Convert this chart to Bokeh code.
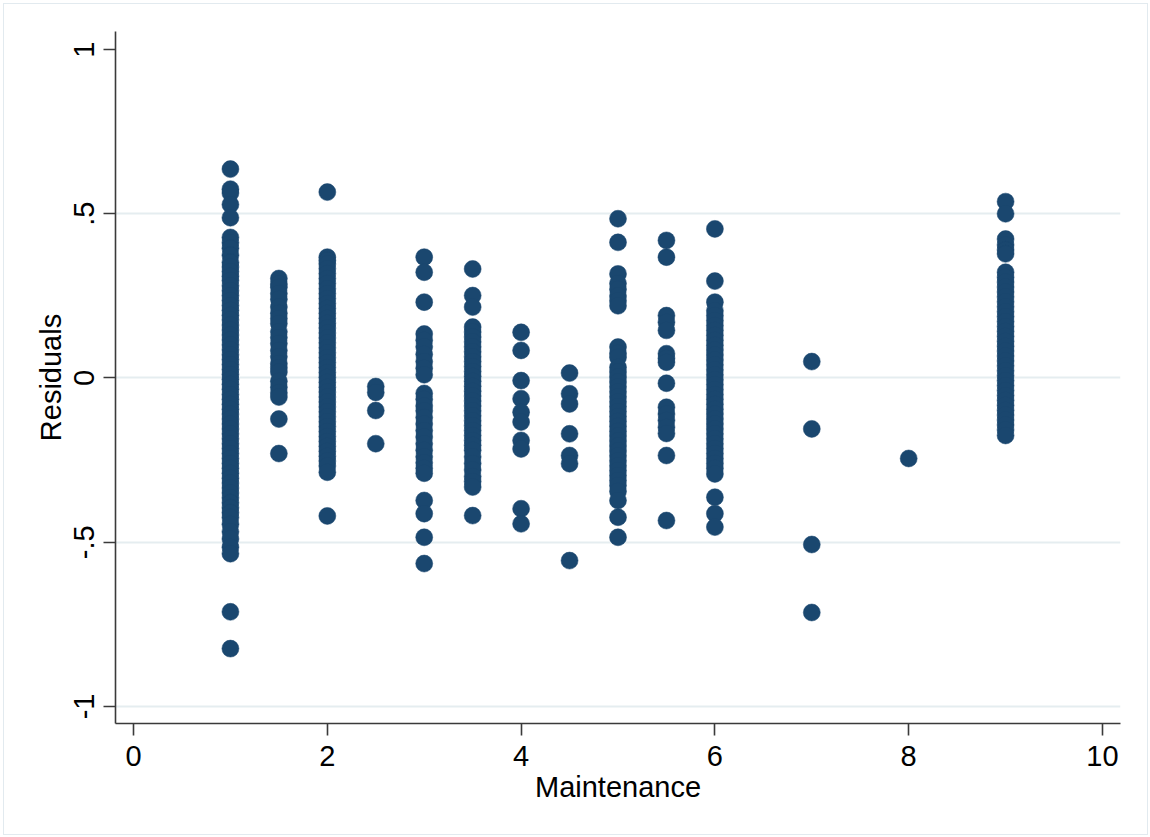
from bokeh.plotting import figure
from bokeh.models import Range1d, FixedTicker, ColumnDataSource
from bokeh.embed import file_html
from bokeh.resources import INLINE

# Residuals by maintenance level, one list per x value
maint_levels = [1, 1.5, 2, 2.5, 3, 3.5, 4, 4.5, 5, 5.5, 6, 7, 8, 9]

res_1 = [0.636, 0.575, 0.563, 0.528, 0.488, 0.428, 0.412, 0.395, 0.374,
         0.352, 0.338, 0.324, 0.31, 0.297, 0.281, 0.266, 0.251, 0.236, 0.221,
         0.206, 0.191, 0.177, 0.161, 0.146, 0.131, 0.116, 0.101, 0.086, 0.071,
         0.056, 0.041, 0.026, 0.011, -0.004, -0.019, -0.034, -0.05, -0.065,
         -0.08, -0.095, -0.11, -0.125, -0.14, -0.155, -0.17, -0.185, -0.2,
         -0.215, -0.23, -0.245, -0.26, -0.275, -0.29, -0.305, -0.32, -0.335,
         -0.35, -0.365, -0.38, -0.395, -0.41, -0.425, -0.445, -0.468, -0.49,
         -0.515, -0.535, -0.712, -0.824]
res_1_5 = [0.303, 0.286, 0.276, 0.257, 0.24, 0.216, 0.197, 0.181, 0.166,
           0.141, 0.123, 0.105, 0.084, 0.065, 0.044, 0.031, 0.018, -0.01,
           -0.028, -0.045, -0.058, -0.125, -0.23]
res_2 = [0.566, 0.368, 0.358, 0.347, 0.333, 0.318, 0.303, 0.288, 0.272,
         0.257, 0.242, 0.227, 0.212, 0.197, 0.182, 0.167, 0.152, 0.137, 0.122,
         0.107, 0.092, 0.077, 0.062, 0.047, 0.032, 0.017, 0.002, -0.013,
         -0.028, -0.043, -0.058, -0.073, -0.088, -0.103, -0.118, -0.133,
         -0.148, -0.163, -0.178, -0.193, -0.208, -0.223, -0.238, -0.253,
         -0.268, -0.287, -0.42]
res_2_5 = [-0.026, -0.044, -0.099, -0.2]
res_3 = [0.368, 0.322, 0.231, 0.134, 0.115, 0.095, 0.072, 0.05, 0.03, 0.01,
         -0.047, -0.065, -0.085, -0.1, -0.12, -0.14, -0.16, -0.18, -0.2,
         -0.22, -0.24, -0.258, -0.275, -0.29, -0.373, -0.413, -0.485, -0.565]
res_3_5 = [0.332, 0.251, 0.216, 0.155, 0.14, 0.125, 0.11, 0.095, 0.08,
           0.065, 0.05, 0.035, 0.02, 0.005, -0.01, -0.025, -0.04, -0.055,
           -0.07, -0.085, -0.1, -0.115, -0.13, -0.145, -0.16, -0.175, -0.19,
           -0.205, -0.22, -0.24, -0.26, -0.28, -0.3, -0.315, -0.332, -0.419]
res_4 = [0.139, 0.084, -0.008, -0.063, -0.104, -0.134, -0.19, -0.216,
         -0.398, -0.444]
res_4_5 = [0.015, -0.048, -0.079, -0.17, -0.236, -0.261, -0.556]
res_5 = [0.485, 0.413, 0.317, 0.288, 0.27, 0.25, 0.235, 0.22, 0.094, 0.075,
         0.063, 0.033, 0.018, 0.003, -0.012, -0.027, -0.042, -0.057, -0.072,
         -0.087, -0.102, -0.117, -0.132, -0.147, -0.162, -0.177, -0.192,
         -0.207, -0.222, -0.237, -0.252, -0.267, -0.282, -0.297, -0.312,
         -0.327, -0.345, -0.373, -0.424, -0.485]
res_5_5 = [0.419, 0.368, 0.19, 0.17, 0.145, 0.074, 0.06, 0.048, -0.016,
           -0.089, -0.11, -0.129, -0.15, -0.169, -0.236, -0.434]
res_6 = [0.454, 0.295, 0.231, 0.205, 0.19, 0.175, 0.16, 0.145, 0.13,
         0.115, 0.1, 0.085, 0.07, 0.055, 0.04, 0.025, 0.01, -0.005, -0.02,
         -0.035, -0.05, -0.065, -0.08, -0.095, -0.11, -0.125, -0.14, -0.155,
         -0.17, -0.185, -0.2, -0.215, -0.23, -0.245, -0.26, -0.275, -0.292,
         -0.363, -0.413, -0.454]
res_7 = [0.05, -0.155, -0.507, -0.714]
res_8 = [-0.245]
res_9 = [0.537, 0.5, 0.423, 0.405, 0.39, 0.378, 0.322, 0.307, 0.292, 0.277,
         0.262, 0.247, 0.232, 0.217, 0.202, 0.187, 0.172, 0.157, 0.142,
         0.127, 0.112, 0.097, 0.082, 0.067, 0.052, 0.037, 0.022, 0.007,
         -0.008, -0.023, -0.038, -0.053, -0.068, -0.083, -0.098, -0.113,
         -0.128, -0.143, -0.158, -0.175]

residual_groups = [res_1, res_1_5, res_2, res_2_5, res_3, res_3_5, res_4,
                   res_4_5, res_5, res_5_5, res_6, res_7, res_8, res_9]

x_ticks = [0, 2, 4, 6, 8, 10]
y_ticks = [-1, -0.5, 0, 0.5, 1]
y_tick_labels = {1: "1", 0.5: ".5", 0: "0", -0.5: "-.5", -1: "-1"}

xs, ys = [], []
for level, vals in zip(maint_levels, residual_groups):
    xs.extend([level] * len(vals))
    ys.extend(vals)
source = ColumnDataSource(data=dict(maintenance=xs, residual=ys))

FONT = "Liberation Sans"
NAVY = "#1a476f"
AXIS = "#3a3a3a"

p = figure(width=1150, height=837, output_backend="svg", toolbar_location=None,
           x_range=Range1d(-0.186, 10.186), y_range=Range1d(-1.052, 1.055),
           min_border_left=115, min_border_right=30,
           min_border_top=31, min_border_bottom=114)
p.outline_line_color = None
p.background_fill_color = "white"
p.border_fill_color = "white"
# thin pale frame around the whole graph region
p.styles = {"position": "relative"}
p.stylesheets = [
    ":host::after { content: ''; position: absolute; left: 3px; top: 3px;"
    " right: 2px; bottom: 2px; border: 1.5px solid #e2eaef;"
    " pointer-events: none; z-index: 100; }"
]

p.scatter("maintenance", "residual", source=source, size=17,
          fill_color=NAVY, line_color=NAVY, line_width=0.5)

# light horizontal grid
p.xgrid.visible = False
p.ygrid.ticker = FixedTicker(ticks=[-1, -0.5, 0, 0.5])
p.ygrid.grid_line_color = "#e5edf0"
p.ygrid.grid_line_width = 2

for ax in (p.xaxis[0], p.yaxis[0]):
    ax.axis_line_color = AXIS
    ax.axis_line_width = 1.6
    ax.major_tick_line_color = AXIS
    ax.major_tick_line_width = 1.6
    ax.major_tick_out = 12
    ax.major_tick_in = 0
    ax.minor_tick_line_color = None
    ax.major_label_text_font = FONT
    ax.major_label_text_font_size = "29px"
    ax.major_label_text_color = "black"
    ax.axis_label_text_font = FONT
    ax.axis_label_text_font_size = "29px"
    ax.axis_label_text_font_style = "normal"
    ax.axis_label_text_color = "black"

p.xaxis.ticker = FixedTicker(ticks=x_ticks)
p.yaxis.ticker = FixedTicker(ticks=y_ticks)
p.yaxis.major_label_overrides = y_tick_labels
p.yaxis.major_label_orientation = "parallel"
p.xaxis.axis_label = "Maintenance"
p.yaxis.axis_label = "Residuals"
p.xaxis.major_label_standoff = 10
p.yaxis.major_label_standoff = 9
p.xaxis.axis_label_standoff = 2
p.yaxis.axis_label_standoff = 5

open("out.html", "w").write(file_html(p, INLINE))
